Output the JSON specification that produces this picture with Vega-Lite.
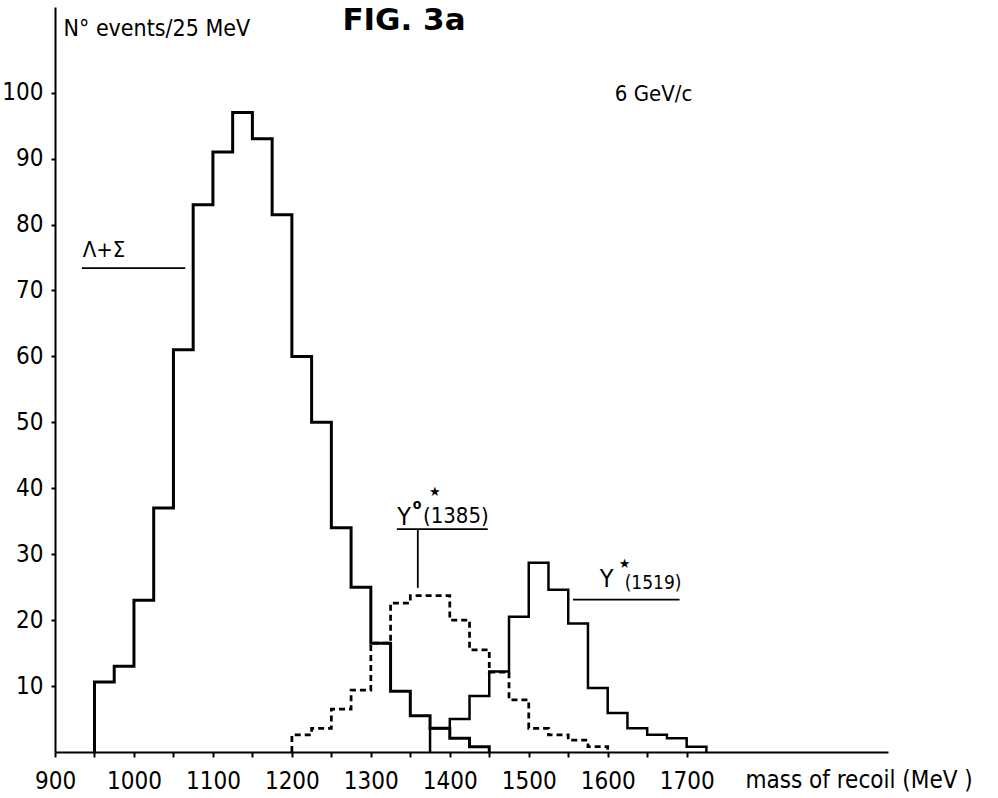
{
  "$schema": "https://vega.github.io/schema/vega-lite/v6.json",
  "width": 833,
  "height": 745,
  "autosize": {"type": "none"},
  "padding": {"left": 55, "top": 7, "right": 110, "bottom": 46},
  "background": "white",
  "config": {
    "view": {"stroke": null},
    "font": "DejaVu Sans Condensed",
    "axis": {
      "domainColor": "black",
      "domainWidth": 2,
      "tickColor": "black",
      "tickWidth": 2,
      "grid": false,
      "labelColor": "black",
      "titleColor": "black",
      "labelFont": "Liberation Sans Narrow, DejaVu Sans Condensed, sans-serif",
      "titleFont": "DejaVu Sans Condensed",
      "titleFontWeight": "normal"
    }
  },
  "encoding": {
    "x": {
      "field": "mev",
      "type": "quantitative",
      "scale": {"domain": [900, 1955], "nice": false, "zero": false},
      "axis": {
        "values": [900, 950, 1000, 1050, 1100, 1150, 1200, 1250, 1300, 1350, 1400, 1450, 1500, 1550, 1600, 1650, 1700],
        "format": "d",
        "labelExpr": "datum.value % 100 == 0 ? datum.label : ''",
        "tickSize": 5,
        "labelPadding": 31,
        "labelBaseline": "alphabetic",
        "labelFontSize": 24,
        "labelOverlap": false,
        "labelFlush": false,
        "title": "mass of recoil (MeV )",
        "titleX": 690,
        "titleY": 35,
        "titleAlign": "left",
        "titleBaseline": "alphabetic",
        "titleFontSize": 24
      }
    },
    "y": {
      "field": "n",
      "type": "quantitative",
      "scale": {"domain": [0, 113], "nice": false},
      "axis": {
        "values": [10, 20, 30, 40, 50, 60, 70, 80, 90, 100],
        "tickSize": 4,
        "labelPadding": 8,
        "labelFontSize": 24,
        "title": "N° events/25 MeV",
        "titleAngle": 0,
        "titleX": 8,
        "titleY": 28,
        "titleAlign": "left",
        "titleBaseline": "alphabetic",
        "titleFontSize": 23
      }
    }
  },
  "layer": [
    {
      "data": {
        "values": [
          {"series": "Λ+Σ", "i": 0, "mev": 950, "n": 0},
          {"series": "Λ+Σ", "i": 1, "mev": 950, "n": 10.6},
          {"series": "Λ+Σ", "i": 2, "mev": 975, "n": 13},
          {"series": "Λ+Σ", "i": 3, "mev": 1000, "n": 23},
          {"series": "Λ+Σ", "i": 4, "mev": 1025, "n": 37},
          {"series": "Λ+Σ", "i": 5, "mev": 1050, "n": 61},
          {"series": "Λ+Σ", "i": 6, "mev": 1075, "n": 83},
          {"series": "Λ+Σ", "i": 7, "mev": 1100, "n": 91},
          {"series": "Λ+Σ", "i": 8, "mev": 1125, "n": 97},
          {"series": "Λ+Σ", "i": 9, "mev": 1150, "n": 93},
          {"series": "Λ+Σ", "i": 10, "mev": 1175, "n": 81.5},
          {"series": "Λ+Σ", "i": 11, "mev": 1200, "n": 60},
          {"series": "Λ+Σ", "i": 12, "mev": 1225, "n": 50},
          {"series": "Λ+Σ", "i": 13, "mev": 1250, "n": 34},
          {"series": "Λ+Σ", "i": 14, "mev": 1275, "n": 25},
          {"series": "Λ+Σ", "i": 15, "mev": 1300, "n": 16.5},
          {"series": "Λ+Σ", "i": 16, "mev": 1325, "n": 9.2},
          {"series": "Λ+Σ", "i": 17, "mev": 1350, "n": 5.5},
          {"series": "Λ+Σ", "i": 18, "mev": 1375, "n": 3.6},
          {"series": "Λ+Σ", "i": 19, "mev": 1400, "n": 2.1},
          {"series": "Λ+Σ", "i": 20, "mev": 1425, "n": 0.8},
          {"series": "Λ+Σ", "i": 21, "mev": 1450, "n": 0},
          {"series": "Y0*(1385)", "i": 0, "mev": 1200, "n": 0},
          {"series": "Y0*(1385)", "i": 1, "mev": 1200, "n": 2.6},
          {"series": "Y0*(1385)", "i": 2, "mev": 1225, "n": 3.6},
          {"series": "Y0*(1385)", "i": 3, "mev": 1250, "n": 6.5},
          {"series": "Y0*(1385)", "i": 4, "mev": 1275, "n": 9.4},
          {"series": "Y0*(1385)", "i": 5, "mev": 1300, "n": 16.5},
          {"series": "Y0*(1385)", "i": 6, "mev": 1325, "n": 22.6},
          {"series": "Y0*(1385)", "i": 7, "mev": 1350, "n": 23.7},
          {"series": "Y0*(1385)", "i": 8, "mev": 1375, "n": 23.7},
          {"series": "Y0*(1385)", "i": 9, "mev": 1400, "n": 20},
          {"series": "Y0*(1385)", "i": 10, "mev": 1425, "n": 15.5},
          {"series": "Y0*(1385)", "i": 11, "mev": 1450, "n": 12.1},
          {"series": "Y0*(1385)", "i": 12, "mev": 1475, "n": 7.9},
          {"series": "Y0*(1385)", "i": 13, "mev": 1500, "n": 3.6},
          {"series": "Y0*(1385)", "i": 14, "mev": 1525, "n": 2.6},
          {"series": "Y0*(1385)", "i": 15, "mev": 1550, "n": 1.8},
          {"series": "Y0*(1385)", "i": 16, "mev": 1575, "n": 0.8},
          {"series": "Y0*(1385)", "i": 17, "mev": 1600, "n": 0},
          {"series": "Y*(1519)", "i": 0, "mev": 1375, "n": 0},
          {"series": "Y*(1519)", "i": 1, "mev": 1375, "n": 3.6},
          {"series": "Y*(1519)", "i": 2, "mev": 1400, "n": 5},
          {"series": "Y*(1519)", "i": 3, "mev": 1425, "n": 8.5},
          {"series": "Y*(1519)", "i": 4, "mev": 1450, "n": 12.2},
          {"series": "Y*(1519)", "i": 5, "mev": 1475, "n": 20.5},
          {"series": "Y*(1519)", "i": 6, "mev": 1500, "n": 28.7},
          {"series": "Y*(1519)", "i": 7, "mev": 1525, "n": 24.6},
          {"series": "Y*(1519)", "i": 8, "mev": 1550, "n": 19.5},
          {"series": "Y*(1519)", "i": 9, "mev": 1575, "n": 9.7},
          {"series": "Y*(1519)", "i": 10, "mev": 1600, "n": 5.9},
          {"series": "Y*(1519)", "i": 11, "mev": 1625, "n": 3.6},
          {"series": "Y*(1519)", "i": 12, "mev": 1650, "n": 2.6},
          {"series": "Y*(1519)", "i": 13, "mev": 1675, "n": 2.1},
          {"series": "Y*(1519)", "i": 14, "mev": 1700, "n": 0.8},
          {"series": "Y*(1519)", "i": 15, "mev": 1725, "n": 0}
        ]
      },
      "mark": {"type": "line", "interpolate": "step-after", "color": "black", "strokeJoin": "miter", "strokeCap": "butt"},
      "encoding": {
        "detail": {"field": "series", "type": "nominal"},
        "order": {"field": "i", "type": "quantitative"},
        "strokeDash": {
          "field": "series",
          "type": "nominal",
          "scale": {"domain": ["Λ+Σ", "Y0*(1385)", "Y*(1519)"], "range": [[1, 0], [6, 4], [1, 0]]},
          "legend": null
        },
        "strokeWidth": {
          "field": "series",
          "type": "nominal",
          "scale": {"domain": ["Λ+Σ", "Y0*(1385)", "Y*(1519)"], "range": [3, 2.5, 2.5]},
          "legend": null
        }
      }
    },
    {
      "data": {"values": [{"t": 10}, {"t": 20}, {"t": 30}, {"t": 40}, {"t": 50}, {"t": 60}, {"t": 70}, {"t": 80}, {"t": 90}, {"t": 100}]},
      "mark": {"type": "rule", "color": "black", "strokeWidth": 2},
      "encoding": {
        "x": {"datum": 900, "type": "quantitative"},
        "x2": {"datum": 906},
        "y": {"field": "t", "type": "quantitative"}
      }
    },
    {
      "data": {
        "values": [
          {"mev": 934, "mev2": 1065, "n": 73.4, "n2": 73.4},
          {"mev": 1333, "mev2": 1448, "n": 33.8, "n2": 33.8},
          {"mev": 1359.5, "mev2": 1359.5, "n": 33.8, "n2": 24.9},
          {"mev": 1556, "mev2": 1691, "n": 23.1, "n2": 23.1}
        ]
      },
      "mark": {"type": "rule", "color": "black", "strokeWidth": 1.8},
      "encoding": {
        "x2": {"field": "mev2"},
        "y2": {"field": "n2"}
      }
    },
    {
      "data": {"values": [{"label": "FIG. 3a", "mev": 1342, "n": 109.5}]},
      "mark": {"type": "text", "align": "center", "baseline": "alphabetic", "fontSize": 31, "fontWeight": "bold", "color": "black", "font": "DejaVu Sans"},
      "encoding": {"text": {"field": "label", "type": "nominal"}}
    },
    {
      "data": {
        "values": [
          {"label": "Λ+Σ", "mev": 935, "n": 75.1},
          {"label": "6 GeV/c", "mev": 1609, "n": 98.7},
          {"label": "(1385)", "mev": 1366, "n": 34.7}
        ]
      },
      "mark": {"type": "text", "align": "left", "baseline": "alphabetic", "fontSize": 22, "color": "black", "font": "DejaVu Sans Condensed"},
      "encoding": {"text": {"field": "label", "type": "nominal"}}
    },
    {
      "data": {
        "values": [
          {"label": "Y", "mev": 1333.4, "n": 34.4},
          {"label": "Y", "mev": 1590, "n": 25.0}
        ]
      },
      "mark": {"type": "text", "align": "left", "baseline": "alphabetic", "fontSize": 25, "color": "black", "font": "DejaVu Sans Condensed"},
      "encoding": {"text": {"field": "label", "type": "nominal"}}
    },
    {
      "data": {"values": [{"label": "(1519)", "mev": 1621.5, "n": 24.7}]},
      "mark": {"type": "text", "align": "left", "baseline": "alphabetic", "fontSize": 19, "color": "black", "font": "DejaVu Sans Condensed"},
      "encoding": {"text": {"field": "label", "type": "nominal"}}
    },
    {
      "data": {"values": [{"label": "o", "mev": 1353, "n": 36.9}]},
      "mark": {"type": "text", "align": "left", "baseline": "alphabetic", "fontSize": 14, "fontWeight": "bold", "color": "black", "font": "DejaVu Sans Condensed"},
      "encoding": {"text": {"field": "label", "type": "nominal"}}
    },
    {
      "data": {
        "values": [
          {"label": "★", "mev": 1381, "n": 39.4},
          {"label": "★", "mev": 1621.5, "n": 28.5}
        ]
      },
      "mark": {"type": "text", "align": "center", "baseline": "middle", "fontSize": 13, "color": "black", "font": "DejaVu Sans"},
      "encoding": {"text": {"field": "label", "type": "nominal"}}
    }
  ]
}
